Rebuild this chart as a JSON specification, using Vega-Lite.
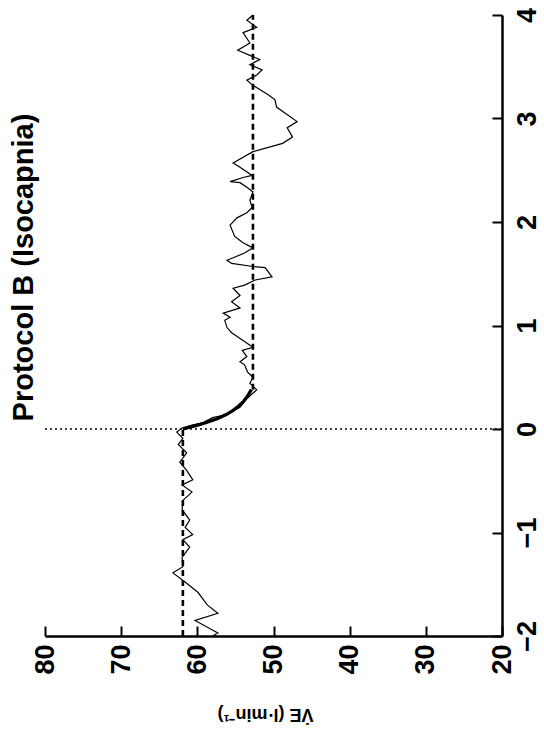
{
  "$schema": "https://vega.github.io/schema/vega-lite/v6.json",
  "width": 457,
  "height": 621,
  "autosize": {"type": "none"},
  "padding": {"left": 45, "top": 15, "right": 42, "bottom": 110},
  "background": "white",
  "title": {
    "text": "Protocol B (Isocapnia)",
    "orient": "left",
    "anchor": "middle",
    "dx": 58,
    "offset": -8,
    "font": "Liberation Sans",
    "fontSize": 29,
    "fontWeight": "bold",
    "color": "black"
  },
  "config": {
    "view": {"stroke": null},
    "axis": {
      "grid": false,
      "domainColor": "black",
      "domainWidth": 2.5,
      "tickColor": "black",
      "tickWidth": 2,
      "tickSize": -10,
      "labelColor": "black",
      "labelFont": "Liberation Sans",
      "labelFontSize": 27,
      "labelFontWeight": "bold",
      "labelFlush": false,
      "labelOverlap": false,
      "titleColor": "black",
      "titleFont": "Liberation Sans"
    }
  },
  "datasets": {
    "obs": [
      {"t": -2.0, "ve": 58.0},
      {"t": -1.97, "ve": 57.3},
      {"t": -1.85, "ve": 60.3},
      {"t": -1.78, "ve": 57.3},
      {"t": -1.70, "ve": 58.7},
      {"t": -1.58, "ve": 59.9},
      {"t": -1.49, "ve": 61.4},
      {"t": -1.39, "ve": 63.2},
      {"t": -1.33, "ve": 61.9},
      {"t": -1.24, "ve": 62.0},
      {"t": -1.14, "ve": 61.0},
      {"t": -1.07, "ve": 61.9},
      {"t": -1.02, "ve": 60.6},
      {"t": -0.95, "ve": 61.6},
      {"t": -0.88, "ve": 61.0},
      {"t": -0.78, "ve": 62.0},
      {"t": -0.69, "ve": 61.9},
      {"t": -0.61, "ve": 60.7},
      {"t": -0.54, "ve": 62.0},
      {"t": -0.49, "ve": 60.6},
      {"t": -0.40, "ve": 61.4},
      {"t": -0.32, "ve": 62.3},
      {"t": -0.23, "ve": 61.4},
      {"t": -0.15, "ve": 62.5},
      {"t": -0.09, "ve": 61.9},
      {"t": -0.03, "ve": 62.7},
      {"t": 0.01, "ve": 62.0},
      {"t": 0.04, "ve": 60.6},
      {"t": 0.06, "ve": 59.3},
      {"t": 0.11, "ve": 58.0},
      {"t": 0.14, "ve": 56.1},
      {"t": 0.21, "ve": 54.4},
      {"t": 0.30, "ve": 53.4},
      {"t": 0.38, "ve": 52.2},
      {"t": 0.44, "ve": 53.1},
      {"t": 0.50, "ve": 52.7},
      {"t": 0.55, "ve": 53.4},
      {"t": 0.62, "ve": 53.8},
      {"t": 0.65, "ve": 54.4},
      {"t": 0.70, "ve": 53.5},
      {"t": 0.76, "ve": 54.1},
      {"t": 0.79, "ve": 52.7},
      {"t": 0.86, "ve": 54.1},
      {"t": 0.93, "ve": 55.5},
      {"t": 0.98, "ve": 56.1},
      {"t": 1.05, "ve": 56.4},
      {"t": 1.08, "ve": 55.7},
      {"t": 1.12, "ve": 56.6},
      {"t": 1.17, "ve": 54.4},
      {"t": 1.23, "ve": 55.5},
      {"t": 1.29, "ve": 54.4},
      {"t": 1.36, "ve": 55.3},
      {"t": 1.39, "ve": 53.8},
      {"t": 1.44, "ve": 52.4},
      {"t": 1.47, "ve": 50.2},
      {"t": 1.56, "ve": 51.1},
      {"t": 1.57, "ve": 52.7},
      {"t": 1.60, "ve": 55.5},
      {"t": 1.63, "ve": 56.1},
      {"t": 1.70, "ve": 53.8},
      {"t": 1.75, "ve": 52.7},
      {"t": 1.80, "ve": 54.0},
      {"t": 1.86, "ve": 55.1},
      {"t": 1.97, "ve": 55.7},
      {"t": 2.04, "ve": 54.8},
      {"t": 2.09, "ve": 53.5},
      {"t": 2.14, "ve": 52.8},
      {"t": 2.21, "ve": 53.1},
      {"t": 2.29, "ve": 52.7},
      {"t": 2.33, "ve": 53.4},
      {"t": 2.38, "ve": 54.4},
      {"t": 2.39, "ve": 55.7},
      {"t": 2.43, "ve": 54.0},
      {"t": 2.45, "ve": 52.8},
      {"t": 2.53, "ve": 54.4},
      {"t": 2.57, "ve": 55.3},
      {"t": 2.68, "ve": 52.7},
      {"t": 2.76, "ve": 48.8},
      {"t": 2.82, "ve": 47.5},
      {"t": 2.91, "ve": 48.2},
      {"t": 2.97, "ve": 46.9},
      {"t": 3.11, "ve": 49.6},
      {"t": 3.18, "ve": 49.8},
      {"t": 3.23, "ve": 50.7},
      {"t": 3.28, "ve": 51.8},
      {"t": 3.32, "ve": 52.7},
      {"t": 3.37, "ve": 53.5},
      {"t": 3.42, "ve": 52.2},
      {"t": 3.47, "ve": 51.5},
      {"t": 3.52, "ve": 53.1},
      {"t": 3.57, "ve": 51.8},
      {"t": 3.61, "ve": 53.1},
      {"t": 3.66, "ve": 54.7},
      {"t": 3.73, "ve": 53.1},
      {"t": 3.83, "ve": 54.0},
      {"t": 3.88, "ve": 52.2},
      {"t": 3.95, "ve": 53.5},
      {"t": 4.0, "ve": 52.7}
    ],
    "fit": [
      {"t": -2.0, "ve": 61.9, "part": "pre"},
      {"t": 0.0, "ve": 61.9, "part": "pre"},
      {"t": 0.0, "ve": 61.9, "part": "exp"},
      {"t": 0.03, "ve": 60.3, "part": "exp"},
      {"t": 0.06, "ve": 58.9, "part": "exp"},
      {"t": 0.10, "ve": 57.4, "part": "exp"},
      {"t": 0.14, "ve": 56.2, "part": "exp"},
      {"t": 0.18, "ve": 55.3, "part": "exp"},
      {"t": 0.22, "ve": 54.6, "part": "exp"},
      {"t": 0.27, "ve": 53.9, "part": "exp"},
      {"t": 0.32, "ve": 53.4, "part": "exp"},
      {"t": 0.38, "ve": 52.9, "part": "exp"},
      {"t": 0.38, "ve": 52.7, "part": "post"},
      {"t": 4.0, "ve": 52.7, "part": "post"}
    ],
    "onset": [
      {"t": 0, "ve": 80},
      {"t": 0, "ve": 20}
    ]
  },
  "encoding": {
    "x": {
      "field": "ve",
      "type": "quantitative",
      "scale": {"domain": [20, 80], "reverse": true, "nice": false, "zero": false},
      "axis": {
        "orient": "bottom",
        "values": [20, 30, 40, 50, 60, 70, 80],
        "labelAngle": -90,
        "labelAlign": "right",
        "labelBaseline": "middle",
        "labelPadding": 18,
        "title": "V̇E (l·min⁻¹)",
        "titleAngle": 180,
        "titleBaseline": "bottom",
        "titleFontSize": 18,
        "titleFontWeight": "bold",
        "titlePadding": 30,
        "titleX": 220
      }
    },
    "y": {
      "field": "t",
      "type": "quantitative",
      "scale": {"domain": [-2, 4], "nice": false, "zero": false},
      "axis": {
        "orient": "right",
        "values": [-2, -1, 0, 1, 2, 3, 4],
        "labelAngle": -90,
        "labelAlign": "center",
        "labelBaseline": "top",
        "labelPadding": 22,
        "title": null
      }
    }
  },
  "layer": [
    {
      "data": {"name": "onset"},
      "mark": {"type": "line", "color": "black", "strokeWidth": 1.5, "strokeDash": [2, 3]},
      "encoding": {"order": {"field": "ve", "type": "quantitative"}}
    },
    {
      "data": {"name": "fit"},
      "transform": [{"filter": "datum.part !== 'exp'"}],
      "mark": {"type": "line", "color": "black", "strokeWidth": 2.6, "strokeDash": [6, 4]},
      "encoding": {
        "detail": {"field": "part", "type": "nominal"},
        "order": {"field": "t", "type": "quantitative"}
      }
    },
    {
      "data": {"name": "fit"},
      "transform": [{"filter": "datum.part === 'exp'"}],
      "mark": {"type": "line", "color": "black", "strokeWidth": 3.2},
      "encoding": {"order": {"field": "t", "type": "quantitative"}}
    },
    {
      "data": {"name": "obs"},
      "mark": {"type": "line", "color": "black", "strokeWidth": 1.2},
      "encoding": {"order": {"field": "t", "type": "quantitative"}}
    }
  ]
}
